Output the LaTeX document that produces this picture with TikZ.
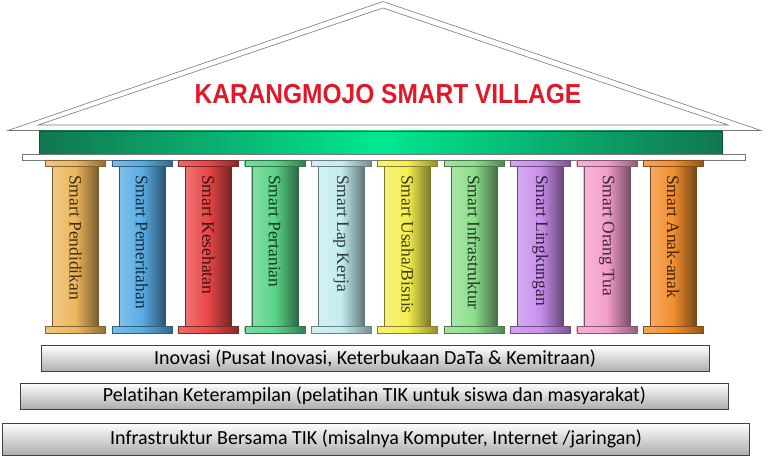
\documentclass[tikz,border=0pt]{standalone}
\usepackage{fontspec}
\setmainfont{Liberation Serif}
\newfontfamily\titlefont{Liberation Sans}
\newfontfamily\boxfont[Ligatures=NoCommon]{Carlito}
\definecolor{roofline}{RGB}{120,120,120}
\definecolor{beamdark}{RGB}{18,118,78}
\definecolor{beamlight}{RGB}{0,232,146}
\definecolor{titlered}{RGB}{226,24,40}
\definecolor{cgold}{RGB}{236,182,92}
\definecolor{cblue}{RGB}{88,172,228}
\definecolor{cred}{RGB}{232,70,70}
\definecolor{cgreen}{RGB}{90,212,136}
\definecolor{ccyan}{RGB}{196,236,240}
\definecolor{cyellow}{RGB}{244,238,80}
\definecolor{clime}{RGB}{140,222,140}
\definecolor{cpurple}{RGB}{200,142,236}
\definecolor{cpink}{RGB}{244,158,204}
\definecolor{corange}{RGB}{242,142,46}
\tikzset{
  roof/.style={draw=roofline, line width=0.6pt, fill=white},
  beam/.style={draw=beamdark!70!black, line width=0.4pt, inner sep=0pt,
    left color=beamdark, right color=beamdark, middle color=beamlight},
  plinth/.style={draw=roofline, line width=0.5pt, fill=white, inner sep=0pt},
  capital/.style={draw=#1!55!black, line width=0.4pt, inner sep=0pt,
    minimum width=60pt, minimum height=5.5pt,
    left color=#1!80!white, right color=#1!60!black, middle color=#1},
  shaft/.style={draw=#1!50!black, line width=0.4pt, inner sep=0pt,
    minimum width=46pt, minimum height=160.5pt,
    left color=#1!75!white, right color=#1!50!black, middle color=#1},
  pillartext/.style={rotate=-90, anchor=west, inner sep=0pt,
    font=\fontsize{17.5}{20}\selectfont, text=#1!25!black},
  layer/.style={draw=black!75, line width=0.6pt, inner sep=0pt,
    top color=white, bottom color=black!32,
    font=\boxfont\fontsize{20}{22}\selectfont}
}
\begin{document}
\begin{tikzpicture}[x=1pt, y=-1pt]
  \useasboundingbox [fill=white] (0,0) rectangle (768,462);
  % roof
  \draw [roof] (8,130.5) -- (383,1.5) -- (761,130.5) -- cycle;
  \draw [roof] (38,125) -- (383,8) -- (728,125) -- cycle;
  \node [text=titlered, font=\titlefont\bfseries\fontsize{25}{28}\selectfont] (title) at (388,94) {\scalebox{0.98}[1.1]{KARANGMOJO SMART VILLAGE}};
  \node [beam, minimum width=683pt, minimum height=24pt] (beam) at (380.5,143) {};
  \node [plinth, minimum width=723pt, minimum height=6.5pt] (plinth) at (383.5,157.5) {};
  % pillars
  \foreach \lbl/\col [count=\i from 0] in {Pendidikan/cgold, Pemeritahan/cblue, Kesehatan/cred,
      Pertanian/cgreen, Lap Kerja/ccyan, Usaha\slash Bisnis/cyellow, Infrastruktur/clime,
      Lingkungan/cpurple, Orang Tua/cpink, Anak-anak/corange} {
    \pgfmathsetmacro{\cx}{75.5+66.4*\i}
    \node [shaft=\col] (shaft\i) at (\cx,246.2) {};
    \node [capital=\col] (top\i) at (\cx,163.3) {};
    \node [capital=\col, minimum height=6.5pt] (foot\i) at (\cx,329.7) {};
    \node [pillartext=\col] (name\i) at (\cx,175) {Smart \lbl};
  }
  % layers
  \node [layer, minimum width=668pt, minimum height=26pt] (inovasi) at (375,358.5) {Inovasi (Pusat Inovasi, Keterbukaan DaTa \& Kemitraan)};
  \node [layer, minimum width=708pt, minimum height=26pt] (pelatihan) at (374.5,396) {Pelatihan Keterampilan (pelatihan TIK untuk siswa dan masyarakat)};
  \node [layer, minimum width=747pt, minimum height=32pt] (infra) at (376,439) {Infrastruktur Bersama TIK (misalnya Komputer, Internet /jaringan)};
\end{tikzpicture}
\end{document}
